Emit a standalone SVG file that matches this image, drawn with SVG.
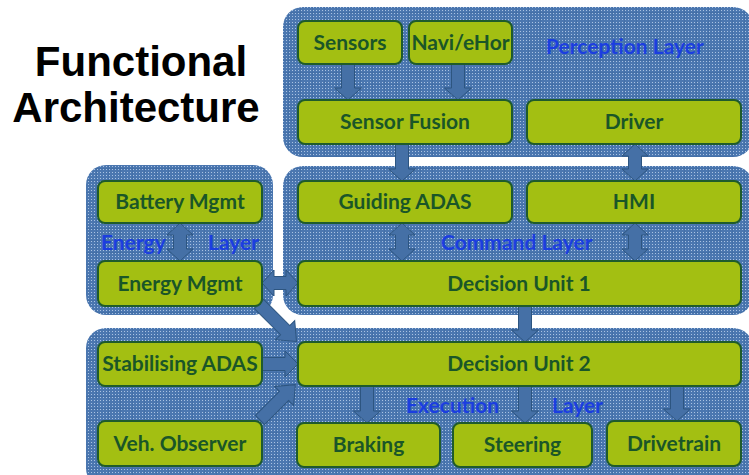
<svg xmlns="http://www.w3.org/2000/svg" width="749" height="475" viewBox="0 0 749 475">
<defs>
<pattern id="dots" width="3" height="3" patternUnits="userSpaceOnUse">
<rect width="3" height="3" fill="#4b77b0"/>
<rect x="1" y="1" width="1" height="1" fill="#a9c2e2"/>
</pattern>
<pattern id="grid" width="12" height="12" patternUnits="userSpaceOnUse">
<rect width="12" height="12" fill="url(#dots)"/>
<rect x="0" y="0" width="12" height="1" fill="#3f6aa3" opacity="0.6"/>
<rect x="0" y="0" width="1" height="12" fill="#3f6aa3" opacity="0.6"/>
</pattern>
</defs>
<style>
.layer{fill:url(#grid);}
.box{fill:#a3bf12;stroke:#1f5b2c;stroke-width:2;}
.t{font-family:Lato,"Open Sans","Liberation Sans",sans-serif;font-weight:bold;font-size:21px;fill:#1a5628;text-anchor:middle;}
.lt{font-family:Lato,"Open Sans","Liberation Sans",sans-serif;font-weight:bold;font-size:21px;fill:#1b3ee0;}
.title{font-family:"Liberation Sans",Arial,sans-serif;font-weight:bold;font-size:42px;fill:#000;text-anchor:middle;}
.arr{fill:#4570a6;stroke:#2d5580;stroke-width:1;}
</style>
<rect width="749" height="475" fill="#fff"/>
<g id="title">
<text class="title" x="141" y="76">Functional</text>
<text class="title" x="136" y="122">Architecture</text>
</g>
<g id="layers">
<rect id="perception-layer" class="layer" x="283" y="7" width="470" height="150" rx="20"/>
<rect id="command-layer" class="layer" x="283" y="166" width="470" height="149" rx="20"/>
<rect id="energy-layer" class="layer" x="86" y="165" width="187" height="150" rx="20"/>
<rect id="execution-layer" class="layer" x="86" y="328" width="667" height="160" rx="20"/>
<text class="lt" x="625" y="54" text-anchor="middle">Perception Layer</text>
<text class="lt" x="101" y="250">Energy</text>
<text class="lt" x="208" y="250">Layer</text>
<text class="lt" x="441" y="250">Command Layer</text>
<text class="lt" x="406" y="413">Execution</text>
<text class="lt" x="552" y="413">Layer</text>
</g>
<g id="connectors">
<polygon class="arr" points="341.5,64 354.5,64 354.5,88 361.5,88 348,100 334.5,88 341.5,88"/>
<polygon class="arr" points="451.5,64 464.5,64 464.5,88 471.5,88 458,100 444.5,88 451.5,88"/>
<polygon class="arr" points="395.5,144 408.5,144 408.5,169 415.5,169 402,181 388.5,169 395.5,169"/>
<polygon class="arr" points="635,144 648,156 641.5,156 641.5,169 648,169 635,181 622,169 628.5,169 628.5,156 622,156"/>
<polygon class="arr" points="180,223 193,235 186.5,235 186.5,249 193,249 180,261 167,249 173.5,249 173.5,235 167,235"/>
<polygon class="arr" points="402,223 415,235 408.5,235 408.5,249 415,249 402,261 389,249 395.5,249 395.5,235 389,235"/>
<polygon class="arr" points="635,223 648,235 641.5,235 641.5,249 648,249 635,261 622,249 628.5,249 628.5,235 622,235"/>
<polygon class="arr" points="262,283 274,270 274,276.5 286,276.5 286,270 298,283 286,296 286,289.5 274,289.5 274,296"/>
<polygon class="arr" points="518.5,306 531.5,306 531.5,330 538.5,330 525,342 511.5,330 518.5,330"/>
<polygon class="arr" points="360.5,386 373.5,386 373.5,411 380.5,411 367,423 353.5,411 360.5,411"/>
<polygon class="arr" points="518.5,386 531.5,386 531.5,411 538.5,411 525,423 511.5,411 518.5,411"/>
<polygon class="arr" points="670.5,386 683.5,386 683.5,409 690.5,409 677,421 663.5,409 670.5,409"/>
<polygon class="arr" points="262,357.5 285,357.5 285,351 298,364 285,377 285,370.5 262,370.5"/>
<polygon class="arr" transform="translate(259,304) rotate(45)" points="0,-6.5 37,-6.5 37,-13.5 53,0 37,13.5 37,6.5 0,6.5"/>
<polygon class="arr" transform="translate(260,420) rotate(-45)" points="0,-6.5 34,-6.5 34,-13.5 50,0 34,13.5 34,6.5 0,6.5"/>
</g>
<g id="sensors"><rect class="box" x="298" y="21" width="104" height="43" rx="7"/><text class="t" x="350" y="50">Sensors</text></g>
<g id="navi"><rect class="box" x="409" y="21" width="103" height="43" rx="7"/><text class="t" x="460.5" y="50">Navi/eHor</text></g>
<g id="sensor-fusion"><rect class="box" x="298" y="100" width="214" height="44" rx="7"/><text class="t" x="405" y="129">Sensor Fusion</text></g>
<g id="driver"><rect class="box" x="527" y="100" width="214" height="44" rx="7"/><text class="t" x="634" y="129">Driver</text></g>
<g id="battery-mgmt"><rect class="box" x="98" y="181" width="164" height="42" rx="7"/><text class="t" x="180" y="209">Battery Mgmt</text></g>
<g id="energy-mgmt"><rect class="box" x="98" y="261" width="164" height="45" rx="7"/><text class="t" x="180" y="291">Energy Mgmt</text></g>
<g id="guiding-adas"><rect class="box" x="298" y="181" width="214" height="42" rx="7"/><text class="t" x="405" y="209">Guiding ADAS</text></g>
<g id="hmi"><rect class="box" x="527" y="181" width="214" height="42" rx="7"/><text class="t" x="634" y="209">HMI</text></g>
<g id="decision-unit-1"><rect class="box" x="298" y="261" width="443" height="45" rx="7"/><text class="t" x="519" y="291">Decision Unit 1</text></g>
<g id="stabilising-adas"><rect class="box" x="98" y="342" width="164" height="44" rx="7"/><text class="t" x="180" y="371">Stabilising ADAS</text></g>
<g id="decision-unit-2"><rect class="box" x="298" y="342" width="443" height="44" rx="7"/><text class="t" x="519" y="371">Decision Unit 2</text></g>
<g id="veh-observer"><rect class="box" x="98" y="421" width="164" height="45" rx="7"/><text class="t" x="180" y="451">Veh. Observer</text></g>
<g id="braking"><rect class="box" x="297" y="423" width="143" height="44" rx="7"/><text class="t" x="368.5" y="452">Braking</text></g>
<g id="steering"><rect class="box" x="453" y="423" width="139" height="44" rx="7"/><text class="t" x="522.5" y="452">Steering</text></g>
<g id="drivetrain"><rect class="box" x="607" y="421" width="134" height="45" rx="7"/><text class="t" x="674" y="451">Drivetrain</text></g>
</svg>
